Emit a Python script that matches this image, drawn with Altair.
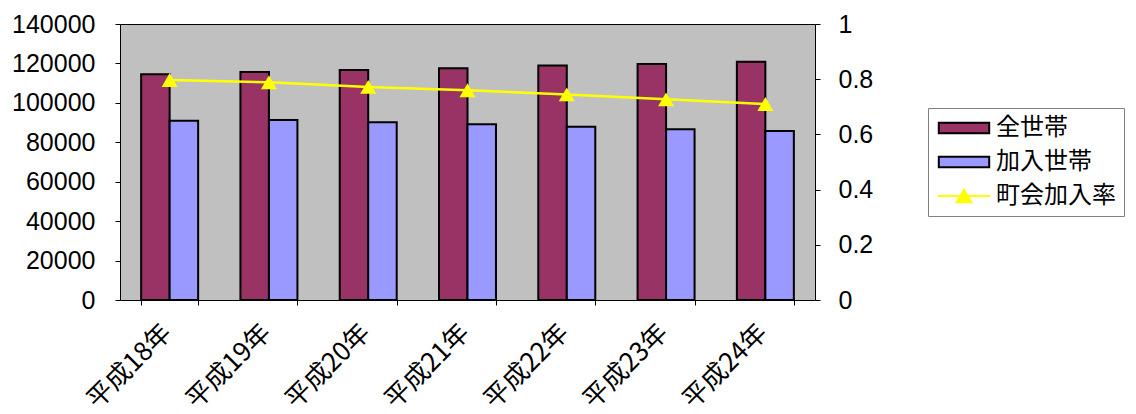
import altair as alt
import pandas as pd

categories = ["平成18年", "平成19年", "平成20年", "平成21年", "平成22年", "平成23年", "平成24年"]
series_names = ["全世帯", "加入世帯", "町会加入率"]
total_households = [114500, 115600, 116700, 117500, 118900, 119700, 120900]
joined_households = [90900, 91300, 90100, 89100, 87900, 86600, 85700]
join_rate = [0.797, 0.789, 0.772, 0.760, 0.745, 0.727, 0.710]
left_ticks = [0, 20000, 40000, 60000, 80000, 100000, 120000, 140000]
right_ticks = [0, 0.2, 0.4, 0.6, 0.8, 1]

bars_df = pd.DataFrame({
    "年": categories * 2,
    "系列": [series_names[0]] * len(categories) + [series_names[1]] * len(categories),
    "世帯数": total_households + joined_households,
})
line_df = pd.DataFrame({"年": categories, "率": join_rate})

FONT = "Noto Sans CJK JP"
NUMFONT = "Liberation Sans"
COLORS = ["#993366", "#9999FF", "#FFFF00"]
RECT_PATH = "M-2.4,-0.5H2.4V0.5H-2.4Z"
LINE_TRI_PATH = "M-2.5,0H2.5M-0.7,0.6L0,-0.6L0.7,0.6Z"
IS_RATE = "datum.value === '" + series_names[2] + "'"

x_enc = alt.X(
    "年:N", sort=categories,
    scale=alt.Scale(paddingInner=0.426, paddingOuter=0.213),
    axis=alt.Axis(title=None, labelAngle=-45, labelFont=FONT, labelFontSize=26,
                  labelColor="black", tickBand="extent", tickSize=5, tickColor="black",
                  domain=False, labelPadding=14, labelOffset=-12),
)

legend = alt.Legend(
    title=None, orient="none", legendX=808, legendY=84, direction="vertical",
    fillColor="white", strokeColor="#808080", padding=8,
    labelFont=FONT, labelFontSize=24, labelColor="black", labelLimit=300,
    symbolSize=441, symbolOffset=16, labelOffset=20, rowPadding=10,
    symbolStrokeWidth=2, symbolOpacity=1,
    symbolType=alt.expr(IS_RATE + " ? '" + LINE_TRI_PATH + "' : '" + RECT_PATH + "'"),
    symbolStrokeColor=alt.expr(IS_RATE + " ? '#FFFF00' : '#000000'"),
)

bars = alt.Chart(bars_df).mark_bar(stroke="black", strokeWidth=2).encode(
    x=x_enc,
    xOffset=alt.XOffset("系列:N", sort=series_names[:2], scale=alt.Scale(paddingInner=0, paddingOuter=0)),
    y=alt.Y("世帯数:Q", scale=alt.Scale(domain=[0, 140000], nice=False),
            axis=alt.Axis(values=left_ticks, format="d", title=None, grid=False, labelFont=NUMFONT,
                          labelFontSize=25, labelColor="black", tickSize=5, tickColor="black",
                          domain=False, labelPadding=20)),
    color=alt.Color("系列:N", scale=alt.Scale(domain=series_names, range=COLORS), legend=legend),
)

line = alt.Chart(line_df).mark_line(
    color="#FFFF00", strokeWidth=2.5,
    point=alt.OverlayMarkDef(shape="triangle-up", size=256, filled=True, color="#FFFF00", opacity=1),
).encode(
    x=alt.X("年:N", sort=categories),
    y=alt.Y("率:Q", scale=alt.Scale(domain=[0, 1], nice=False),
            axis=alt.Axis(orient="right", values=right_ticks, format=".1~f", title=None, grid=False,
                          labelFont=NUMFONT, labelFontSize=25, labelColor="black", tickSize=5,
                          tickColor="black", domain=False, labelPadding=18)),
)

chart = alt.layer(bars, line).resolve_scale(y="independent").properties(
    width=695, height=276,
    autosize=alt.AutoSizeParams(type="none"),
    padding={"left": 120, "top": 24, "right": 321, "bottom": 114},
    background="white",
).configure_view(fill="#C0C0C0", stroke="black", strokeWidth=1)

chart.save("out.html", embed_options={"renderer": "svg", "actions": False})
